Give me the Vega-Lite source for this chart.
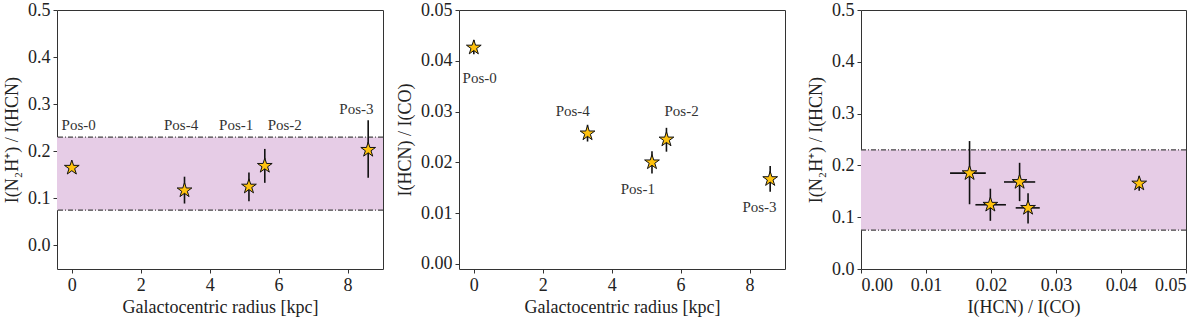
{
  "$schema": "https://vega.github.io/schema/vega-lite/v6.json",
  "background": "white",
  "padding": {"left": 3, "top": 0, "right": 5, "bottom": 0},
  "spacing": 76,
  "bounds": "flush",
  "config": {
    "view": {"stroke": "#333333", "strokeWidth": 1},
    "font": "Liberation Serif",
    "axis": {
      "grid": false,
      "domain": false,
      "tickColor": "#333333",
      "tickSize": 4,
      "labelFont": "Liberation Serif",
      "labelFontSize": 18,
      "labelColor": "#222222",
      "titleFont": "Liberation Serif",
      "titleFontSize": 18,
      "titleFontWeight": "normal",
      "titleColor": "#222222",
      "labelPadding": 3
    },
    "text": {"font": "Liberation Serif", "fontSize": 15, "color": "#333333"}
  },
  "datasets": {
    "p1": [
      {"pos": "Pos-0", "r": 0.0, "ratio": 0.165, "lo": 0.158, "hi": 0.172, "lx": 0.2, "ly": 0.255},
      {"pos": "Pos-4", "r": 3.27, "ratio": 0.117, "lo": 0.089, "hi": 0.146, "lx": 3.17, "ly": 0.255},
      {"pos": "Pos-1", "r": 5.14, "ratio": 0.125, "lo": 0.094, "hi": 0.155, "lx": 4.77, "ly": 0.255},
      {"pos": "Pos-2", "r": 5.6, "ratio": 0.169, "lo": 0.133, "hi": 0.205, "lx": 6.18, "ly": 0.255},
      {"pos": "Pos-3", "r": 8.6, "ratio": 0.203, "lo": 0.144, "hi": 0.266, "lx": 8.26, "ly": 0.289}
    ],
    "p2": [
      {"pos": "Pos-0", "r": 0.0, "hcnco": 0.0426, "lo": 0.0413, "hi": 0.0441, "lx": 0.17, "ly": 0.0366},
      {"pos": "Pos-4", "r": 3.3, "hcnco": 0.0257, "lo": 0.0241, "hi": 0.0274, "lx": 2.87, "ly": 0.0301},
      {"pos": "Pos-1", "r": 5.17, "hcnco": 0.02, "lo": 0.0178, "hi": 0.0222, "lx": 4.76, "ly": 0.0147},
      {"pos": "Pos-2", "r": 5.59, "hcnco": 0.0245, "lo": 0.0221, "hi": 0.0268, "lx": 6.03, "ly": 0.0301},
      {"pos": "Pos-3", "r": 8.6, "hcnco": 0.0167, "lo": 0.0142, "hi": 0.0193, "lx": 8.29, "ly": 0.0112}
    ],
    "p3": [
      {"pos": "Pos-3", "hcnco": 0.0167, "xlo": 0.0137, "xhi": 0.0192, "ratio": 0.185, "ylo": 0.125, "yhi": 0.247},
      {"pos": "Pos-1", "hcnco": 0.0199, "xlo": 0.0176, "xhi": 0.0223, "ratio": 0.124, "ylo": 0.093, "yhi": 0.155},
      {"pos": "Pos-2", "hcnco": 0.0244, "xlo": 0.022, "xhi": 0.0268, "ratio": 0.168, "ylo": 0.131, "yhi": 0.205},
      {"pos": "Pos-4", "hcnco": 0.0257, "xlo": 0.0238, "xhi": 0.0275, "ratio": 0.118, "ylo": 0.088, "yhi": 0.146},
      {"pos": "Pos-0", "hcnco": 0.0428, "xlo": 0.0425, "xhi": 0.0431, "ratio": 0.165, "ylo": 0.151, "yhi": 0.179}
    ],
    "band": [{"lo": 0.075, "hi": 0.23}]
  },
  "hconcat": [
    {
      "width": 326,
      "height": 259,
      "layer": [
        {
          "data": {"name": "band"},
          "mark": {"type": "rect", "color": "#e6cce6"},
          "encoding": {
            "y": {"field": "lo", "type": "quantitative", "scale": {"domain": [-0.05, 0.5], "nice": false, "zero": false},
              "axis": {"values": [0, 0.1, 0.2, 0.3, 0.4, 0.5], "format": ".1f", "title": "I(N₂H⁺) / I(HCN)", "titlePadding": 6}},
            "y2": {"field": "hi"}
          }
        },
        {
          "data": {"name": "band"},
          "mark": {"type": "rule", "color": "#444444", "strokeWidth": 1.2, "strokeDash": [5, 2, 1, 2]},
          "encoding": {"y": {"field": "lo", "type": "quantitative"}}
        },
        {
          "data": {"name": "band"},
          "mark": {"type": "rule", "color": "#444444", "strokeWidth": 1.2, "strokeDash": [5, 2, 1, 2]},
          "encoding": {"y": {"field": "hi", "type": "quantitative"}}
        },
        {
          "data": {"name": "p1"},
          "mark": {"type": "rule", "color": "#111111", "strokeWidth": 1.6},
          "encoding": {
            "x": {"field": "r", "type": "quantitative", "scale": {"domain": [-0.43, 9.03], "nice": false, "zero": false},
              "axis": {"values": [0, 2, 4, 6, 8], "format": "d", "title": "Galactocentric radius [kpc]"}},
            "y": {"field": "lo", "type": "quantitative"},
            "y2": {"field": "hi"}
          }
        },
        {
          "data": {"name": "p1"},
          "mark": {"type": "point", "shape": "M0,-1L0.2245,-0.309L0.951,-0.309L0.363,0.118L0.588,0.809L0,0.382L-0.588,0.809L-0.363,0.118L-0.951,-0.309L-0.2245,-0.309Z", "filled": true, "fill": "#ffc20e", "stroke": "#111111", "strokeWidth": 1, "size": 240, "opacity": 1},
          "encoding": {
            "x": {"field": "r", "type": "quantitative"},
            "y": {"field": "ratio", "type": "quantitative"}
          }
        },
        {
          "data": {"name": "p1"},
          "mark": {"type": "text", "align": "center", "baseline": "middle"},
          "encoding": {
            "x": {"field": "lx", "type": "quantitative"},
            "y": {"field": "ly", "type": "quantitative"},
            "text": {"field": "pos"}
          }
        }
      ]
    },
    {
      "width": 326,
      "height": 259,
      "layer": [
        {
          "data": {"name": "p2"},
          "mark": {"type": "rule", "color": "#111111", "strokeWidth": 1.6},
          "encoding": {
            "x": {"field": "r", "type": "quantitative", "scale": {"domain": [-0.43, 9.03], "nice": false, "zero": false},
              "axis": {"values": [0, 2, 4, 6, 8], "format": "d", "title": "Galactocentric radius [kpc]"}},
            "y": {"field": "lo", "type": "quantitative", "scale": {"domain": [-0.001, 0.05], "nice": false, "zero": false},
              "axis": {"values": [0, 0.01, 0.02, 0.03, 0.04, 0.05], "format": ".2f", "title": "I(HCN) / I(CO)", "titlePadding": 6}},
            "y2": {"field": "hi"}
          }
        },
        {
          "data": {"name": "p2"},
          "mark": {"type": "point", "shape": "M0,-1L0.2245,-0.309L0.951,-0.309L0.363,0.118L0.588,0.809L0,0.382L-0.588,0.809L-0.363,0.118L-0.951,-0.309L-0.2245,-0.309Z", "filled": true, "fill": "#ffc20e", "stroke": "#111111", "strokeWidth": 1, "size": 240, "opacity": 1},
          "encoding": {
            "x": {"field": "r", "type": "quantitative"},
            "y": {"field": "hcnco", "type": "quantitative"}
          }
        },
        {
          "data": {"name": "p2"},
          "mark": {"type": "text", "align": "center", "baseline": "middle"},
          "encoding": {
            "x": {"field": "lx", "type": "quantitative"},
            "y": {"field": "ly", "type": "quantitative"},
            "text": {"field": "pos"}
          }
        }
      ]
    },
    {
      "width": 325,
      "height": 259,
      "layer": [
        {
          "data": {"name": "band"},
          "mark": {"type": "rect", "color": "#e6cce6"},
          "encoding": {
            "y": {"field": "lo", "type": "quantitative", "scale": {"domain": [0, 0.5], "nice": false, "zero": false},
              "axis": {"values": [0, 0.1, 0.2, 0.3, 0.4, 0.5], "format": ".1f", "title": "I(N₂H⁺) / I(HCN)", "titlePadding": 6}},
            "y2": {"field": "hi"}
          }
        },
        {
          "data": {"name": "band"},
          "mark": {"type": "rule", "color": "#444444", "strokeWidth": 1.2, "strokeDash": [5, 2, 1, 2]},
          "encoding": {"y": {"field": "lo", "type": "quantitative"}}
        },
        {
          "data": {"name": "band"},
          "mark": {"type": "rule", "color": "#444444", "strokeWidth": 1.2, "strokeDash": [5, 2, 1, 2]},
          "encoding": {"y": {"field": "hi", "type": "quantitative"}}
        },
        {
          "data": {"name": "p3"},
          "mark": {"type": "rule", "color": "#111111", "strokeWidth": 1.6},
          "encoding": {
            "x": {"field": "hcnco", "type": "quantitative", "scale": {"domain": [0, 0.05], "nice": false, "zero": false},
              "axis": {"values": [0, 0.01, 0.02, 0.03, 0.04, 0.05], "format": ".2f", "title": "I(HCN) / I(CO)"}},
            "y": {"field": "ylo", "type": "quantitative"},
            "y2": {"field": "yhi"}
          }
        },
        {
          "data": {"name": "p3"},
          "mark": {"type": "rule", "color": "#111111", "strokeWidth": 1.6},
          "encoding": {
            "x": {"field": "xlo", "type": "quantitative"},
            "x2": {"field": "xhi"},
            "y": {"field": "ratio", "type": "quantitative"}
          }
        },
        {
          "data": {"name": "p3"},
          "mark": {"type": "point", "shape": "M0,-1L0.2245,-0.309L0.951,-0.309L0.363,0.118L0.588,0.809L0,0.382L-0.588,0.809L-0.363,0.118L-0.951,-0.309L-0.2245,-0.309Z", "filled": true, "fill": "#ffc20e", "stroke": "#111111", "strokeWidth": 1, "size": 240, "opacity": 1},
          "encoding": {
            "x": {"field": "hcnco", "type": "quantitative"},
            "y": {"field": "ratio", "type": "quantitative"}
          }
        }
      ]
    }
  ]
}
